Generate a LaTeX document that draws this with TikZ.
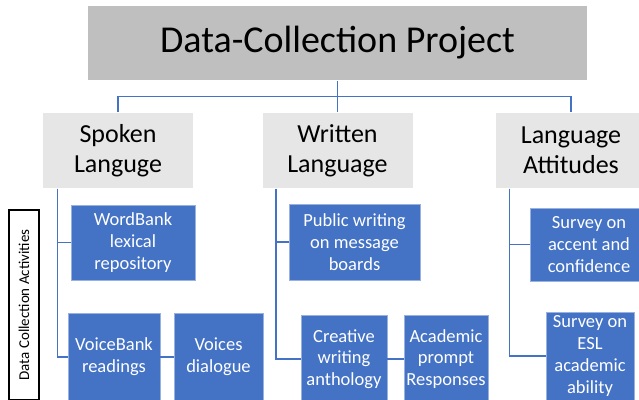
\documentclass[tikz,border=0pt]{standalone}
\usepackage{fontspec}
\setmainfont{Carlito}
\usetikzlibrary{positioning}
\definecolor{cblue}{HTML}{4472C4}
\definecolor{cgrey}{HTML}{BFBFBF}
\definecolor{clight}{HTML}{E7E6E6}
\tikzset{
  every picture/.style={line width=1.2pt},
  head/.style={fill=cgrey, minimum width=499pt, minimum height=74pt, font=\fontsize{38}{44}\selectfont},
  group/.style={fill=clight, minimum width=150pt, minimum height=75pt, align=center, font=\fontsize{26}{30}\selectfont},
  task/.style={fill=cblue, draw=cblue!55!white, line width=0.8pt, text=white, align=center, inner sep=2pt,
    minimum width=#1, minimum height=88pt, font=\fontsize{18.5}{21.7}\selectfont},
  task/.default=90pt,
  link/.style={draw=cblue, line width=1.5pt},
  side/.style={draw=black, fill=white, line width=1.4pt, font=\fontsize{15}{18}\selectfont},
}

\begin{document}
\begin{tikzpicture}[x=1pt, y=-1pt]
  \useasboundingbox (0,0) rectangle (639,399);
  \clip (0,0) rectangle (639,399);
  % project and its three strands
  \node[head] (top) at (337.5,43) {Data-Collection Project};
  \node[group] (sp) at (118,150.5) {Spoken\\Languge};
  \node[group] (wr) at (337.5,150.5) {Written\\Language};
  \node[group] (la) at (571,150.5) {Language\\Attitudes};
  % activities under each strand
  \node[task=124pt, minimum height=75pt] (wb) at (133,242.5) {WordBank\\lexical\\repository};
  \node[task=92pt] (vb) at (114,357) {VoiceBank\\readings};
  \node[task=89pt] (vd) at (218.5,357) {Voices\\dialogue};
  \node[task=131pt, minimum height=76pt] (pw) at (354.5,242) {Public writing\\on message\\boards};
  \node[task=86pt] (cw) at (344,359) {Creative\\writing\\anthology};
  \node[task=84pt] (ap) at (446,359) {Academic\\prompt\\Responses};
  \node[task=118pt, minimum height=73pt] (sa) at (589,244.5) {Survey on\\accent and\\confidence};
  \node[task=88pt] (se) at (590,356) {Survey on\\ESL\\academic\\ability};
  \node[side, minimum width=190pt, minimum height=30pt, rotate=90] (act) at (24,305) {Data Collection Activities};
  % tree lines
  \draw[link] (top) -- (wr);
  \draw[link] (sp.north) -- ++(0,-16) -| (la.north);
  \draw[link] ([xshift=15pt]sp.south west) |- (wb.west);
  \draw[link] ([xshift=15pt]sp.south west) |- (vb.west);
  \draw[link] (vb) -- (vd);
  \draw[link] ([xshift=14pt]wr.south west) |- (pw.west);
  \draw[link] ([xshift=14pt]wr.south west) |- (cw.west);
  \draw[link] (cw) -- (ap);
  \draw[link] ([xshift=14pt]la.south west) |- (sa.west);
  \draw[link] ([xshift=14pt]la.south west) |- (se.west);
\end{tikzpicture}
\end{document}
